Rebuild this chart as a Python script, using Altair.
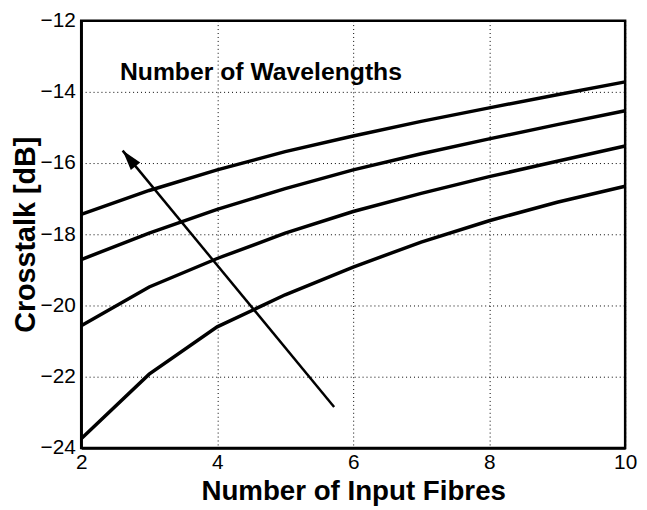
import altair as alt
import pandas as pd

fibres = [2, 3, 4, 5, 6, 7, 8, 9, 10]
curve_1 = [-17.44, -16.77, -16.19, -15.68, -15.24, -14.83, -14.45, -14.08, -13.72]
curve_2 = [-18.71, -17.97, -17.30, -16.72, -16.19, -15.74, -15.32, -14.92, -14.53]
curve_3 = [-20.57, -19.48, -18.68, -17.97, -17.36, -16.85, -16.38, -15.95, -15.52]
curve_4 = [-23.74, -21.93, -20.60, -19.70, -18.92, -18.22, -17.62, -17.10, -16.65]

arrow_x = [5.72, 2.61]
arrow_y = [-22.85, -15.65]
label_text = ["Number of Wavelengths"]
label_x = [2.57]
label_y = [-13.45]

x_ticks = [2, 4, 6, 8, 10]
y_ticks = [-24, -22, -20, -18, -16, -14, -12]

rows = []
for name, vals in [("c1", curve_1), ("c2", curve_2), ("c3", curve_3), ("c4", curve_4)]:
    for xv, yv in zip(fibres, vals):
        rows.append({"series": name, "x": xv, "y": yv})
df = pd.DataFrame(rows)

arrow_df = pd.DataFrame({"x": arrow_x, "y": arrow_y, "o": [0, 1]})
head_df = pd.DataFrame({"x": [arrow_x[1]], "y": [arrow_y[1]]})
text_df = pd.DataFrame({"x": label_x, "y": label_y, "t": label_text})

xscale = alt.Scale(domain=[2, 10], nice=False, zero=False)
yscale = alt.Scale(domain=[-24, -12], nice=False, zero=False)

xaxis = alt.Axis(values=x_ticks, format="d", title="Number of Input Fibres", grid=True,
                 ticks=False, labelPadding=4, titlePadding=5, labelFlush=False)
yaxis = alt.Axis(values=y_ticks, format="d", title="Crosstalk [dB]", grid=True,
                 ticks=False, labelPadding=6, titlePadding=0, labelFlush=False)

lines = alt.Chart(df).mark_line(color="black", strokeWidth=3.5).encode(
    x=alt.X("x:Q", scale=xscale, axis=xaxis),
    y=alt.Y("y:Q", scale=yscale, axis=yaxis),
    detail="series:N",
)

arrow = alt.Chart(arrow_df).mark_line(color="black", strokeWidth=2.5).encode(
    x=alt.X("x:Q", scale=xscale),
    y=alt.Y("y:Q", scale=yscale),
    order="o:Q",
)

head = alt.Chart(head_df).mark_point(
    shape="M0,0 L-0.6,2 L0.6,2 Z", filled=True, color="black", opacity=1,
    size=420, angle=320.6
).encode(
    x=alt.X("x:Q", scale=xscale),
    y=alt.Y("y:Q", scale=yscale),
)

text = alt.Chart(text_df).mark_text(
    align="left", baseline="middle", fontSize=25, fontWeight="bold",
    font="Liberation Sans", color="black"
).encode(
    x=alt.X("x:Q", scale=xscale),
    y=alt.Y("y:Q", scale=yscale),
    text="t:N",
)

chart = alt.layer(lines, arrow, head, text).properties(
    width=550, height=432,
    autosize=alt.AutoSizeParams(type="none"),
    padding={"left": 74, "top": 10, "right": 14, "bottom": 60},
).configure_view(
    stroke="black", strokeWidth=2.5
).configure_axis(
    labelFont="Liberation Sans", labelFontSize=21, labelColor="black",
    titleFont="Liberation Sans", titleFontWeight="bold", titleColor="black",
    domainColor="black", domainWidth=2.5,
    gridColor="black", gridDash=[1, 3], gridWidth=1, gridOpacity=1,
).configure_axisX(
    titleFontSize=28
).configure_axisY(
    titleFontSize=29
)

chart.save("out.html", embed_options={"renderer": "svg", "actions": False})
